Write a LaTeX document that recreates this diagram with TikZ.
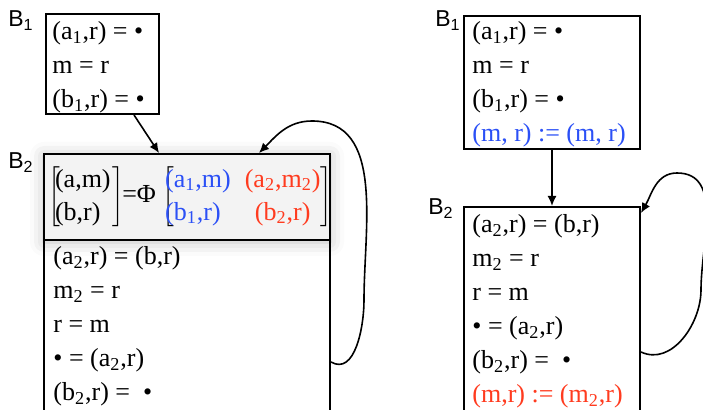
\documentclass[tikz,border=0pt]{standalone}
\usepackage{fontspec}
\setmainfont{Liberation Serif}
\newfontfamily\labelsans{Liberation Sans}
\usepackage{xcolor}
\usetikzlibrary{arrows.meta,calc,shadows.blur}
\definecolor{ink}{HTML}{000000}
\definecolor{phiblue}{HTML}{2B50F6}
\definecolor{phired}{HTML}{FF3B1F}
\definecolor{phifill}{HTML}{F3F3F3}
\tikzset{
  >={Latex[length=5pt,width=4.5pt]},
  flow/.style={draw=ink, line width=.8pt, ->},
  block/.style={draw=ink, line width=1pt, anchor=north west, inner sep=0pt},
  phiblock/.style={block, fill=phifill,
    blur shadow={shadow xshift=0pt, shadow yshift=-1pt,
      shadow blur radius=7pt, shadow opacity=25}},
  stmts/.style={anchor=north west, align=left, inner sep=0pt,
    font=\fontsize{13}{17}\selectfont},
  phitext/.style={inner sep=0pt, font=\fontsize{13}{16.5}\selectfont},
  blocklabel/.style={anchor=base west, inner sep=0pt,
    font=\labelsans\fontsize{11.5}{12}\selectfont}
}
\newcommand{\sub}[1]{\textsubscript{#1}}

\begin{document}
\begin{tikzpicture}[x=.5pt,y=.5pt]
  \useasboundingbox (0,0) rectangle (703,-410);
  \begin{scope}
  \clip (0,0) rectangle (703,-410);

  % ------------------------------------------------------------------
  % left: B1 feeding B2 with the Phi row
  \node[blocklabel] (lb1lab) at (8,-27) {B\sub{1}};
  \node[block, minimum width=56.5pt, minimum height=50pt] (lb1) at (45,-13) {};
  \node[stmts] (lb1txt) at (52,-21)
    {(a\sub{1},r) = \textbullet\\ m = r\\ (b\sub{1},r) = \textbullet};

  \node[blocklabel] (lb2lab) at (8,-169) {B\sub{2}};
  \node[phiblock, minimum width=143pt, minimum height=43pt] (lphi) at (43,-153) {};
  \node[phitext, anchor=west] (phimat) at ([xshift=2.5pt]lphi.west)
    {\delimiterfactor=700 \delimitershortfall=8pt
     $\left[\kern-2.5pt\begin{tabular}{@{}l@{}}(a,m)\\(b,r)\end{tabular}\kern1pt\right]$\kern-1pt=Φ\
     $\left[\kern-4.5pt\begin{tabular}{@{}l@{\hspace{7pt}}c@{}}
       \textcolor{phiblue}{(a\sub{1},m)} & \textcolor{phired}{(a\sub{2},m\sub{2})}\\
       \textcolor{phiblue}{(b\sub{1},r)} & \textcolor{phired}{(b\sub{2},r)}
     \end{tabular}\right]$};
  \node[block, minimum width=143pt, minimum height=95pt] (lb2) at (43,-239) {};
  \node[stmts] (lb2txt) at (53,-246)
    {(a\sub{2},r) = (b,r)\\ m\sub{2} = r\\ r = m\\ \textbullet{} = (a\sub{2},r)\\
     (b\sub{2},r) =\ \ \textbullet};

  \draw[flow] ([xshift=15.75pt]lb1.south) -- ([xshift=-14pt]lphi.north);
  \draw[flow] ([yshift=-61.5pt]lb2.north east) to[out=-30,in=-90] (364,-300)
    to[out=90,in=0] (312,-121) to[out=180,in=45] ([xshift=36pt]lphi.north);

  % ------------------------------------------------------------------
  % right: B1 and B2 with explicit copies
  \node[blocklabel] (rb1lab) at (435,-27) {B\sub{1}};
  \node[block, minimum width=88pt, minimum height=66.5pt] (rb1) at (463,-15) {};
  \node[stmts] (rb1txt) at (472,-21)
    {(a\sub{1},r) = \textbullet\\ m = r\\ (b\sub{1},r) = \textbullet\\
     \textcolor{phiblue}{(m, r) := (m, r)}};

  \node[blocklabel] (rb2lab) at (428,-215) {B\sub{2}};
  \node[block, minimum width=88pt, minimum height=110pt] (rb2) at (463,-206) {};
  \node[stmts] (rb2txt) at (472,-214)
    {(a\sub{2},r) = (b,r)\\ m\sub{2} = r\\ r = m\\ \textbullet{} = (a\sub{2},r)\\
     (b\sub{2},r) =\ \ \textbullet\\ \textcolor{phired}{(m,r) := (m\sub{2},r)}};

  \draw[flow] (rb1) -- (rb2);
  \draw[flow] ([yshift=-73pt]rb2.north east) to[out=-25,in=-90] (701,-290)
    to[out=90,in=0] (677,-173) to[out=180,in=60] ([yshift=-3.5pt]rb2.north east);
  \end{scope}
\end{tikzpicture}
\end{document}
